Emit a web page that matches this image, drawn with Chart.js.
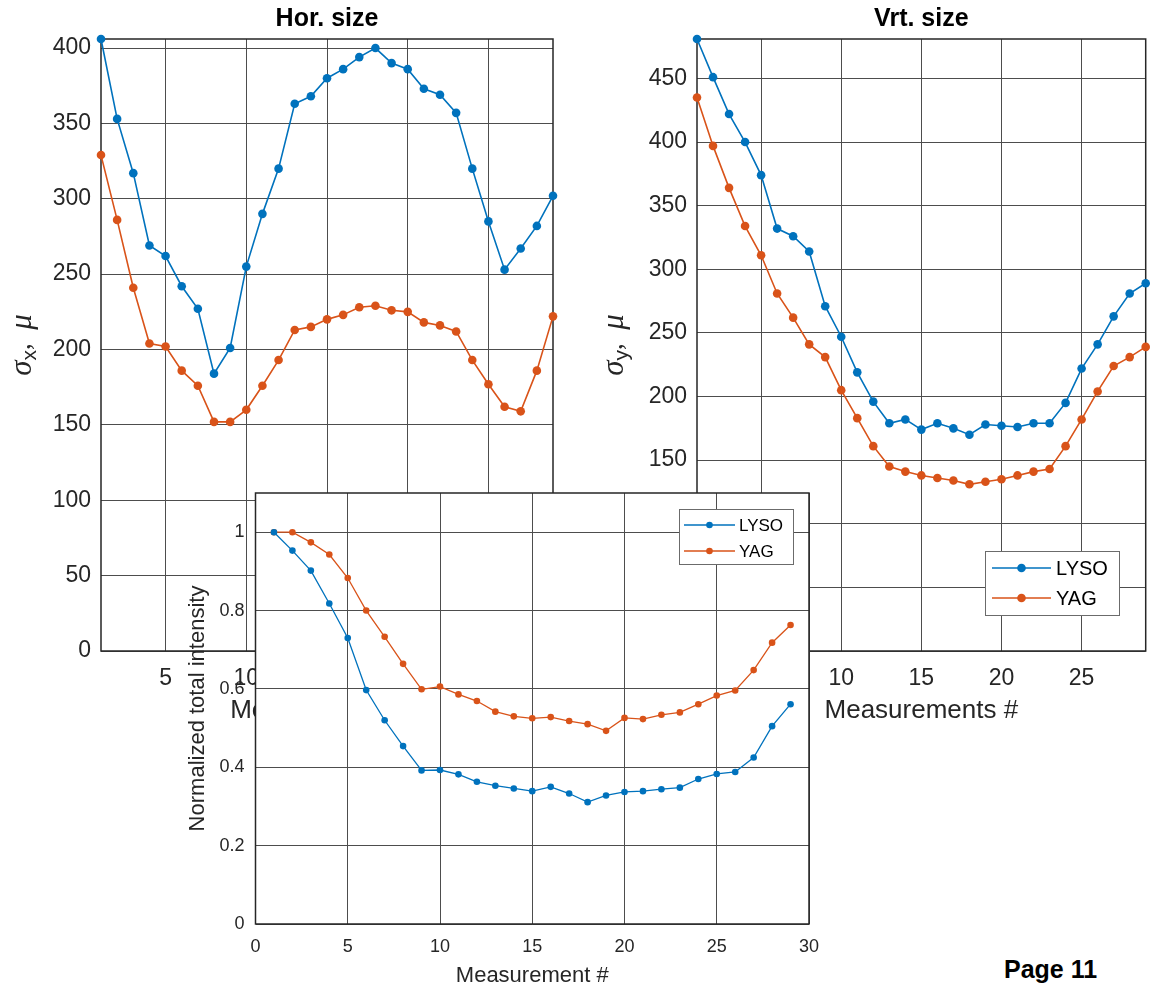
<!DOCTYPE html>
<html>
<head>
<meta charset="utf-8">
<title>Beam size and intensity</title>
<script src="https://cdn.jsdelivr.net/npm/chart.js@4.4.1/dist/chart.umd.min.js"></script>
<style>
  html, body { margin: 0; padding: 0; background: #fff; }
  #page { position: relative; width: 1150px; height: 986px; overflow: hidden; background: #fff; }
  #page canvas { position: absolute; }
  #hor { left: 0; top: 0; width: 575px; height: 745px; }
  #vrt { left: 575px; top: 0; width: 575px; height: 745px; }
  #inten { left: 175px; top: 480px; width: 650px; height: 506px; }
  #pagenum { position: absolute; left: 1004px; top: 955px; line-height: 25px;
             font: bold 25px "Liberation Sans", Arial, sans-serif; color: #000; }
</style>
</head>
<body>
<div id="page">
  <canvas id="hor" width="575" height="745"></canvas>
  <canvas id="vrt" width="575" height="745"></canvas>
  <canvas id="inten" width="650" height="506"></canvas>
  <div id="pagenum">Page 11</div>
</div>
<script>
const measurements = [1, 2, 3, 4, 5, 6, 7, 8, 9, 10, 11, 12, 13, 14, 15,
  16, 17, 18, 19, 20, 21, 22, 23, 24, 25, 26, 27, 28, 29];

// horizontal size, sigma_x (mu)
const horLYSO = [406, 353, 317, 269, 262, 242, 227, 184, 201, 255, 290, 320, 363, 368, 380,
  386, 394, 400, 390, 386, 373, 369, 357, 320, 285, 253, 267, 282, 302];
const horYAG = [329, 286, 241, 204, 202, 186, 176, 152, 152, 160, 176, 193, 213, 215, 220,
  223, 228, 229, 226, 225, 218, 216, 212, 193, 177, 162, 159, 186, 222];

// vertical size, sigma_y (mu)
const vrtLYSO = [481, 451, 422, 400, 374, 332, 326, 314, 271, 247, 219, 196, 179, 182, 174,
  179, 175, 170, 178, 177, 176, 179, 179, 195, 222, 241, 263, 281, 289];
const vrtYAG = [435, 397, 364, 334, 311, 281, 262, 241, 231, 205, 183, 161, 145, 141, 138,
  136, 134, 131, 133, 135, 138, 141, 143, 161, 182, 204, 224, 231, 239];

// normalized total intensity
const intLYSO = [1.0, 0.953, 0.902, 0.818, 0.730, 0.597, 0.520, 0.454, 0.392, 0.393, 0.382, 0.363, 0.353, 0.346, 0.339,
  0.350, 0.333, 0.311, 0.328, 0.337, 0.339, 0.344, 0.348, 0.370, 0.383, 0.388, 0.425, 0.505, 0.561];
const intYAG = [1.0, 1.0, 0.974, 0.943, 0.883, 0.800, 0.733, 0.664, 0.599, 0.606, 0.586, 0.569, 0.542, 0.530, 0.525,
  0.528, 0.518, 0.510, 0.493, 0.526, 0.523, 0.534, 0.540, 0.561, 0.583, 0.596, 0.648, 0.718, 0.763];

const sizeXTicks = [5, 10, 15, 20, 25];
const horYTicks = [0, 50, 100, 150, 200, 250, 300, 350, 400];
const vrtYTicks = [0, 50, 100, 150, 200, 250, 300, 350, 400, 450];
const intXTicks = [0, 5, 10, 15, 20, 25, 30];
const intYTicks = [0, 0.2, 0.4, 0.6, 0.8, 1];

const BLUE = '#0072BD';
const ORANGE = '#D95319';
const INK = '#262626';
const GRID = '#4d4d4d';
const FONT = '"Liberation Sans", Arial, sans-serif';

const pts = ys => measurements.map((x, i) => ({ x, y: ys[i] }));

// white axes background + box on all four sides (matlab style)
const frame = {
  id: 'frame',
  beforeDraw(chart, args, o) {
    if (!o.fill) return;
    const { ctx, chartArea: a } = chart;
    ctx.save();
    ctx.fillStyle = o.fill;
    ctx.fillRect(a.left, a.top, a.right - a.left, a.bottom - a.top);
    ctx.restore();
  },
  beforeDatasetsDraw(chart) {
    const { ctx, chartArea: a } = chart;
    ctx.save();
    ctx.strokeStyle = INK;
    ctx.lineWidth = 1.5;
    ctx.strokeRect(a.left, a.top, a.right - a.left, a.bottom - a.top);
    ctx.restore();
  }
};

const heading = {
  id: 'heading',
  afterDraw(chart, args, o) {
    if (!o.text) return;
    const { ctx, chartArea: a } = chart;
    ctx.save();
    ctx.fillStyle = '#000';
    ctx.font = `bold ${o.size}px ${FONT}`;
    ctx.textAlign = 'center';
    ctx.textBaseline = 'middle';
    ctx.fillText(o.text, (a.left + a.right) / 2, o.y);
    ctx.restore();
  }
};

// rotated "sigma_sub, mu" label
const sigmaTitle = {
  id: 'sigmaTitle',
  afterDraw(chart, args, o) {
    if (!o.sub) return;
    const { ctx, chartArea: a } = chart;
    const parts = [
      ['σ', `italic 31px "Liberation Serif", serif`, 0],
      [o.sub, `21px ${FONT}`, 7],
      [',  ', `27px "Liberation Serif", serif`, 0],
      ['μ', `italic 31px "Liberation Serif", serif`, 0]
    ];
    ctx.save();
    ctx.translate(o.x, (a.top + a.bottom) / 2);
    ctx.rotate(-Math.PI / 2);
    ctx.fillStyle = INK;
    ctx.textBaseline = 'middle';
    let w = 0;
    parts.forEach(p => { ctx.font = p[1]; w += ctx.measureText(p[0]).width; });
    let x = -w / 2;
    parts.forEach(p => {
      ctx.font = p[1];
      ctx.fillText(p[0], x, p[2]);
      x += ctx.measureText(p[0]).width;
    });
    ctx.restore();
  }
};

// legend box with line + marker samples
const legendBox = {
  id: 'legendBox',
  afterDraw(chart, args, o) {
    if (!o.box) return;
    const { ctx } = chart;
    const [bx, by, bw, bh] = o.box;
    ctx.save();
    ctx.fillStyle = '#fff';
    ctx.fillRect(bx, by, bw, bh);
    ctx.strokeStyle = '#6b6b6b';
    ctx.lineWidth = 1;
    ctx.strokeRect(bx + 0.5, by + 0.5, bw, bh);
    ctx.font = `${o.size}px ${FONT}`;
    ctx.textBaseline = 'middle';
    chart.data.datasets.forEach((ds, i) => {
      const y = by + o.rows[i];
      ctx.strokeStyle = ds.borderColor;
      ctx.lineWidth = ds.borderWidth;
      ctx.beginPath();
      ctx.moveTo(bx + o.line[0], y);
      ctx.lineTo(bx + o.line[1], y);
      ctx.stroke();
      ctx.fillStyle = ds.borderColor;
      ctx.beginPath();
      ctx.arc(bx + (o.line[0] + o.line[1]) / 2, y, ds.pointRadius, 0, Math.PI * 2);
      ctx.fill();
      ctx.fillStyle = '#000';
      ctx.fillText(ds.label, bx + o.text, y + 1);
    });
    ctx.restore();
  }
};

function series(label, color, ys, radius, width) {
  return {
    label, data: pts(ys),
    borderColor: color, backgroundColor: color,
    borderWidth: width, pointRadius: radius, pointHoverRadius: radius,
    pointBackgroundColor: color, pointBorderWidth: 0,
    tension: 0, clip: false
  };
}

function axis(min, max, tickVals, size, tickFont, tickPad, title) {
  return {
    type: 'linear', min, max,
    afterBuildTicks: s => { s.ticks = tickVals.map(v => ({ value: v })); },
    afterFit: s => {
      if (s.isHorizontal()) s.height = size; else s.width = size;
      // keep the plot box where it is placed, ignore label overhang
      s.paddingTop = s.paddingBottom = s.paddingLeft = s.paddingRight = 0;
    },
    grid: { color: GRID, lineWidth: 1, drawTicks: false },
    border: { display: false },
    ticks: { color: INK, font: { family: FONT, size: tickFont }, padding: tickPad,
             callback: v => String(v) },
    title: title || { display: false }
  };
}

function sizeChart(id, title, lyso, yag, yMax, yTicks, yWidth, rightPad, sub, subX, legend) {
  return new Chart(document.getElementById(id), {
    type: 'line',
    data: {
      datasets: [
        series('LYSO', BLUE, lyso, 4.3, 1.6),
        series('YAG', ORANGE, yag, 4.3, 1.6)
      ]
    },
    options: {
      responsive: false, animation: false, devicePixelRatio: 1,
      layout: { padding: { left: 0, top: 39, right: rightPad, bottom: 0 } },
      scales: {
        x: axis(1, 29, sizeXTicks, 94, 23, 14, {
          display: true, text: 'Measurements #', color: INK,
          font: { family: FONT, size: 26 }, padding: { top: 0, bottom: 19 }
        }),
        y: axis(0, yMax, yTicks, yWidth, 23, 10)
      },
      plugins: {
        legend: { display: false }, tooltip: { enabled: false },
        frame: {},
        heading: { text: title, size: 25, y: 19 },
        sigmaTitle: { sub, x: subX },
        legendBox: legend || {}
      }
    },
    plugins: [frame, heading, sigmaTitle, legendBox]
  });
}

sizeChart('hor', 'Hor. size', horLYSO, horYAG, 406, horYTicks, 101, 22, 'x', 23);
sizeChart('vrt', 'Vrt. size', vrtLYSO, vrtYAG, 481, vrtYTicks, 122, 0.5, 'y', 40, {
  box: [410, 551, 134, 64], rows: [17, 47], line: [7, 66], text: 71, size: 20
});

new Chart(document.getElementById('inten'), {
  type: 'line',
  data: {
    datasets: [
      series('LYSO', BLUE, intLYSO, 3.3, 1.3),
      series('YAG', ORANGE, intYAG, 3.3, 1.3)
    ]
  },
  options: {
    responsive: false, animation: false, devicePixelRatio: 1,
    layout: { padding: { left: 0, top: 13, right: 16, bottom: 0 } },
    scales: {
      x: axis(0, 30, intXTicks, 62, 18, 12, {
        display: true, text: 'Measurement #', color: INK,
        font: { family: FONT, size: 22 }, padding: { top: 0, bottom: -3 }
      }),
      y: axis(0, 1.1, intYTicks, 80.5, 18, 11, {
        display: true, text: 'Normalized total intensity', color: INK,
        font: { family: FONT, size: 22 }, padding: { top: 10, bottom: 0 }
      })
    },
    plugins: {
      legend: { display: false }, tooltip: { enabled: false },
      frame: { fill: '#fff' },
      heading: {},
      sigmaTitle: {},
      legendBox: { box: [504, 29, 114, 55], rows: [16, 42], line: [5, 56], text: 60, size: 17 }
    }
  },
  plugins: [frame, heading, sigmaTitle, legendBox]
});
</script>
</body>
</html>
